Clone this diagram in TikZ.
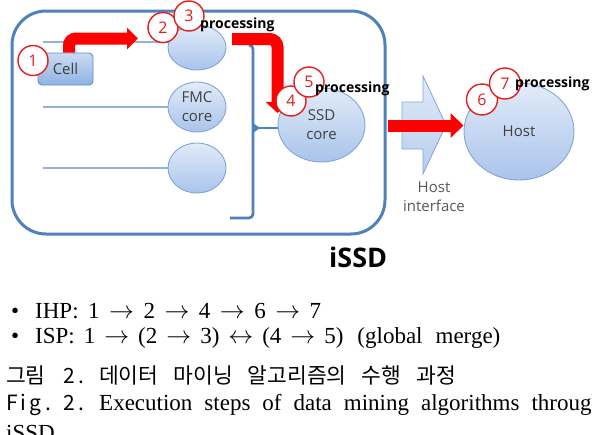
\documentclass[tikz,border=0pt]{standalone}
\usepackage{fontspec}
\setmainfont{Liberation Serif}
\newfontfamily\diagfont{Open Sans}
\newfontfamily\korfont{Noto Sans CJK KR}
\usetikzlibrary{arrows.meta,shapes.geometric}
\pgfdeclarelayer{bg}
\pgfsetlayers{bg,main}
\definecolor{frameblue}{HTML}{4F81BD}
\definecolor{coreline}{HTML}{7FA6DA}
\definecolor{coretop}{HTML}{E2EBF8}
\definecolor{corebot}{HTML}{A9C4EB}
\definecolor{celltop}{HTML}{CADBF3}
\definecolor{cellbot}{HTML}{8FB2E4}
\definecolor{cellline}{HTML}{5F8DCB}
\definecolor{thinblue}{HTML}{95B3D7}
\definecolor{numred}{HTML}{E41E1E}
\definecolor{arrred}{HTML}{FF0000}
\definecolor{textgray}{HTML}{404040}
\definecolor{ifgray}{HTML}{595959}
\begin{document}
\begin{tikzpicture}[x=1pt,y=-1pt,
  core/.style={ellipse, draw=coreline, line width=0.9pt, top color=coretop, bottom color=corebot,
    inner sep=0pt, font=\diagfont\fontsize{15}{19}\selectfont, text=textgray, align=center},
  cellbox/.style={rectangle, rounded corners=4pt, draw=cellline, line width=0.9pt,
    top color=celltop, bottom color=cellbot, minimum width=55pt, minimum height=32pt,
    font=\diagfont\fontsize{15}{17}\selectfont, text=textgray},
  numc/.style={circle, draw=numred, line width=1.4pt, fill=white, text=numred,
    minimum size=30pt, inner sep=0pt, font=\diagfont\fontsize{16}{16}\selectfont},
  redarr/.style={draw=arrred, line width=12pt},
  thinline/.style={draw=thinblue, line width=1.6pt},
  bracketline/.style={draw=frameblue, line width=2.8pt},
  plabel/.style={font=\diagfont\bfseries\fontsize{14}{14}\selectfont, inner sep=0pt, anchor=base west},
  captext/.style={inner sep=0pt, anchor=base west, font=\fontsize{23}{27}\selectfont},
  kortext/.style={inner sep=0pt, anchor=base west, font=\korfont\fontsize{21.5}{24}\selectfont}
]
\useasboundingbox (0,0) rectangle (592,434);

% iSSD frame
\node[draw=frameblue, line width=3pt, rounded corners=34pt, minimum width=373pt, minimum height=223pt,
  inner sep=0pt] (issd) at (198.5,122.5) {};

% cores
\node[cellbox] (cell) at (65.5,69) {Cell};
\node[core, minimum width=58pt, minimum height=45pt] (top) at (197,47.5) {};
\node[core, minimum width=58pt, minimum height=50pt] (fmc) at (197,107) {FMC\\core};
\node[core, minimum width=58pt, minimum height=50pt] (bot) at (197,168) {};
\node[core, minimum width=87pt, minimum height=74pt] (ssd) at (321.5,125) {SSD\\core};
\node[core, minimum width=110pt, minimum height=97pt] (host) at (519,131.5) {Host};

% coordinates
\coordinate (l1) at (43,42);
\coordinate (l2) at (43,107);
\coordinate (l3) at (43,168);
\coordinate (bm) at (253,128);
\coordinate (a1e) at (138,38.5);
\coordinate (a2s) at (232,39);
\coordinate (a2e) at (277.5,113);
\coordinate (a3s) at (388,125.5);

\begin{pgfonlayer}{bg}
  \fill[white] (0,0) rectangle (592,434);
  \draw[thinline] (l1) -- (l1 -| top.center);
  \draw[thinline] (l2) -- (fmc.west);
  \draw[thinline] (l3) -- (bot.west);
  \draw[bracketline, rounded corners=4pt] (249,45) -- (253,45) -- (253,218) -- (230,218);
  \draw[bracketline] (bm) -- (bm -| ssd.center);
  \fill[frameblue] (253,123) -- (260,128) -- (253,133) -- cycle;
\end{pgfonlayer}

% host interface block arrow
\path[draw=coreline, line width=0.8pt, top color=coretop, bottom color=corebot!85]
  (402,102) -- (423,102) -- (423,76) -- (446,125) -- (423,174) -- (423,149) -- (402,149) -- cycle;
\node[inner sep=0pt, align=center, font=\diagfont\fontsize{15}{19}\selectfont, text=ifgray] (hif) at (434,197) {Host\\interface};

% red arrows
\draw[redarr, rounded corners=7pt, -{Triangle[length=11pt,width=21pt]}] ([xshift=3.5pt]cell.north) |- (a1e);
\draw[redarr, rounded corners=8pt, -{Triangle[length=11pt,width=23pt]}] (a2s) -| (a2e);
\draw[redarr, -{Triangle[length=13pt,width=24pt]}] (a3s) -- (a3s -| host.west);

% number markers
\node[numc] (n1) at (33,60.5) {1};
\node[numc] (n2) at (163,27.5) {2};
\node[numc] (n3) at (189,16) {3};
\node[numc] (n4) at (291,101) {4};
\node[numc] (n5) at (309,82) {5};
\node[numc, minimum size=31pt] (n6) at (482,99.5) {6};
\node[numc, minimum size=31pt] (n7) at (505,83.5) {7};

% processing labels
\node[plabel] (p3) at (200,28) {processing};
\node[plabel] (p5) at (315,92) {processing};
\node[plabel] (p7) at (515,87) {processing};
\node[inner sep=0pt, anchor=base west, font=\diagfont\bfseries\fontsize{27}{27}\selectfont] (lbl) at (329,267) {iSSD};

% caption text
\node[captext] (b1) at (11,318) {\textbullet};
\node[captext] (t1) at (35,318) {\spaceskip=9.5pt IHP: 1 $\rightarrow$ 2 $\rightarrow$ 4 $\rightarrow$ 6 $\rightarrow$ 7};
\node[captext] (b2) at (11,343) {\textbullet};
\node[captext] (t2) at (35,343) {\spaceskip=9pt ISP: 1 $\rightarrow$ (2 $\rightarrow$ 3) $\leftrightarrow$ (4 $\rightarrow$ 5) \hspace{5pt}(global \hspace{4pt}merge)};
\node[kortext] (k1) at (6,383) {그림};
\node[kortext, font=\korfont\fontsize{21}{24}\selectfont] (k2) at (63,383) {2\kern4pt.};
\node[kortext] (k3) at (99,383) {\spaceskip=15pt 데이터 마이닝 알고리즘의 수행 과정};
\node[kortext, font=\korfont\fontsize{21}{24}\selectfont] (f1) at (6,410) {F\kern3pt i\kern3pt g\kern4pt.};
\node[kortext, font=\korfont\fontsize{21}{24}\selectfont] (f2) at (63,410) {2\kern4pt.};
\node[captext] (f3) at (99,410) {\spaceskip=12pt Execution steps of data mining algorithms through};
\node[captext] (f4) at (6,440) {iSSD};
\end{tikzpicture}
\end{document}
